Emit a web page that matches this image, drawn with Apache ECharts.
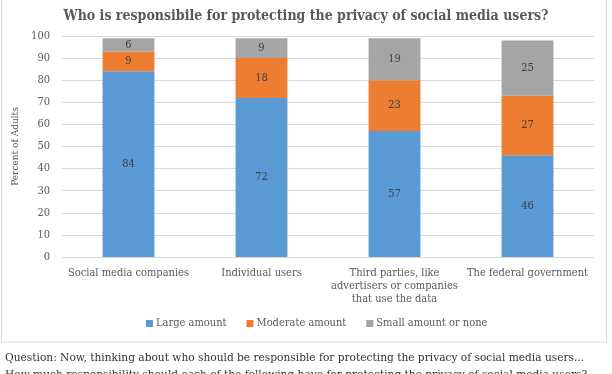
<!DOCTYPE html>
<html><head><meta charset="utf-8">
<script src="https://cdn.jsdelivr.net/npm/echarts@6/dist/echarts.min.js"></script>
<style>html,body{margin:0;padding:0;background:#fff}#c{width:612px;height:374px}</style>
</head><body><div id="c"></div>
<script>
const categories = ['Social media companies', 'Individual users', 'Third parties, like\nadvertisers or companies\nthat use the data', 'The federal government'];
const largeAmount = [84, 72, 57, 46];
const moderateAmount = [9, 18, 23, 27];
const smallAmount = [6, 9, 19, 25];
const yTicks = [0, 10, 20, 30, 40, 50, 60, 70, 80, 90, 100];

const FONT = '"DejaVu Serif Condensed", "DejaVu Serif", serif';
const chart = echarts.init(document.getElementById('c'));
const lbl = {show: true, position: 'inside', color: '#404040', fontSize: 11, fontFamily: FONT};
chart.setOption({
  animation: false,
  textStyle: {fontFamily: FONT},
  title: {text: 'Who is responsibile for protecting the privacy of social media users?', left: 'center', top: 4,
    textStyle: {fontFamily: FONT, fontSize: 14, fontWeight: 'bold', color: '#595959'}},
  grid: {left: 62, right: 18, top: 36, bottom: 117},
  legend: {top: 313, left: 141, itemWidth: 7, itemHeight: 7, itemGap: 20, icon: 'rect',
    textStyle: {fontFamily: FONT, fontSize: 11, color: '#595959', padding: [0, 0, 0, -2]}},
  xAxis: {type: 'category', data: categories,
    axisLine: {lineStyle: {color: '#d9d9d9'}}, axisTick: {show: false},
    axisLabel: {color: '#595959', fontSize: 11, fontFamily: FONT, interval: 0, lineHeight: 13, margin: 10}},
  yAxis: {type: 'value', min: yTicks[0], max: yTicks[yTicks.length - 1], interval: 10,
    name: 'Percent of Adults', nameLocation: 'middle', nameGap: 30,
    nameTextStyle: {color: '#595959', fontSize: 10, fontFamily: FONT},
    axisLabel: {color: '#595959', fontSize: 11, fontFamily: FONT, margin: 12},
    splitLine: {lineStyle: {color: '#d9d9d9'}}},
  series: [
    {name: 'Large amount', type: 'bar', stack: 't', data: largeAmount, barWidth: '39%', itemStyle: {color: '#5B9BD5'}, label: lbl},
    {name: 'Moderate amount', type: 'bar', stack: 't', data: moderateAmount, itemStyle: {color: '#ED7D31'}, label: lbl},
    {name: 'Small amount or none', type: 'bar', stack: 't', data: smallAmount, itemStyle: {color: '#A5A5A5'}, label: lbl}
  ],
  graphic: [
    {type: 'rect', shape: {x: 1.5, y: -1, width: 605, height: 343}, style: {fill: 'none', stroke: '#d9d9d9', lineWidth: 1}, silent: true},
    {type: 'text', left: 5, top: 352, style: {text: 'Question: Now, thinking about who should be responsible for protecting the privacy of social media users...', font: '11.8px ' + FONT, fill: '#333333'}},
    {type: 'text', left: 5, top: 369, style: {text: 'How much responsibility should each of the following have for protecting the privacy of social media users?', font: '11.8px ' + FONT, fill: '#333333'}}
  ]
});
</script></body></html>
